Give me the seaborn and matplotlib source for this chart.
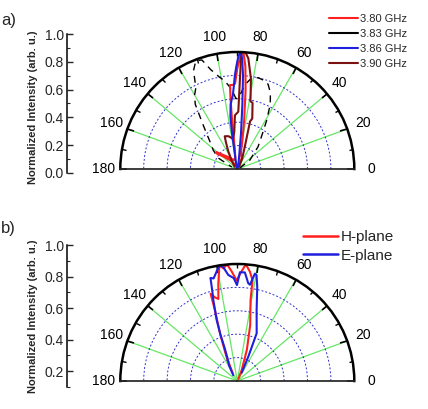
import numpy as np
import pandas as pd
import matplotlib
matplotlib.use("Agg")
import matplotlib.pyplot as plt
import seaborn as sns
from matplotlib.lines import Line2D
from matplotlib.ticker import MultipleLocator

# --- datos (angulo en grados, intensidad normalizada) ---
ANG_380 = [55, 68, 74, 78, 80, 82, 84, 85.5, 87, 88.5, 90, 91.5, 93, 95, 95.5, 96, 96.5, 97,
           100, 110, 125, 135, 141, 143, 138, 125, 110]
INT_380 = [0.02, 0.1, 0.12, 0.15, 0.25, 0.42, 0.68, 0.88, 1.0, 0.96, 0.86, 0.73, 0.72, 0.72, 0.6,
           0.45, 0.3, 0.18, 0.1, 0.08, 0.12, 0.17, 0.23, 0.22, 0.16, 0.08, 0.03]

ANG_383 = [20, 35, 47, 55, 59, 63, 66.5, 70, 73, 77, 81, 85, 88, 91, 94, 98, 101, 105, 108, 111,
           114, 117, 120, 123, 127, 130, 135, 142, 150, 160]
INT_383 = [0.02, 0.13, 0.26, 0.38, 0.49, 0.62, 0.71, 0.77, 0.79, 0.80, 0.79, 0.72, 0.63, 0.60, 0.68,
           0.76, 0.80, 0.88, 0.98, 0.99, 0.92, 0.78, 0.73, 0.66, 0.5, 0.42, 0.33, 0.26, 0.19, 0.05]

ANG_386 = [70, 78, 82, 84, 85.5, 86.5, 87.5, 88.5, 89.5, 90.5, 91.5, 92.5, 93.5, 94.5, 96, 97.5,
           98.5, 99, 102, 115]
INT_386 = [0.01, 0.05, 0.12, 0.3, 0.55, 0.8, 0.95, 1.0, 0.96, 0.88, 0.8, 0.7, 0.63, 0.6, 0.55, 0.45,
           0.3, 0.15, 0.05, 0.01]

ANG_390 = [55, 65, 72, 75, 73.5, 77, 79, 81.4, 84.3, 86, 88, 88.3, 89, 92.5, 94.6, 98, 105, 111,
           113, 117, 125, 140]
INT_390 = [0.03, 0.1, 0.22, 0.42, 0.45, 0.58, 0.59, 0.78, 0.95, 1.0, 1.0, 0.78, 0.49, 0.46, 0.32,
           0.26, 0.29, 0.30, 0.25, 0.17, 0.08, 0.03]

ANG_H = [62, 68, 73, 77, 80.7, 81.4, 83.4, 85.8, 87.7, 90.4, 93, 95, 97, 98.8, 101, 103, 105, 107,
         107.5, 110, 114, 120]
INT_H = [0.02, 0.1, 0.28, 0.49, 0.70, 0.87, 0.94, 1.0, 0.94, 0.86, 0.94, 1.0, 0.97, 1.0, 0.85, 0.72,
         0.74, 0.78, 0.64, 0.43, 0.23, 0.08]

ANG_E = [62, 65.7, 67.9, 74.8, 78, 79.7, 80.7, 82.5, 83.6, 86, 88.6, 90.2, 92, 94.9, 97, 98.5, 100,
         103, 104.6, 105.5, 106.5, 108.7, 110, 111, 113, 118, 125]
INT_E = [0.08, 0.23, 0.44, 0.63, 0.82, 0.92, 0.93, 0.83, 0.84, 0.93, 0.93, 0.82, 0.88, 0.91, 0.98,
         1.0, 0.97, 0.9, 0.91, 0.8, 0.72, 0.55, 0.42, 0.3, 0.22, 0.15, 0.06]

LABELS_A = ['3.80 GHz', '3.83 GHz', '3.86 GHz', '3.90 GHz']
LABELS_B = ['H-plane', 'E-plane']
THETA_TICKS = list(range(0, 181, 20))

C_RED, C_BLK, C_BLUE, C_DRED = '#ff1f1f', '#000000', '#1f1fdd', '#7a1212'
C_GRID_G, C_GRID_B = '#66e666', '#3030d0'

sns.set_theme(style="white")
plt.rcParams['font.family'] = ['Liberation Sans', 'DejaVu Sans']
plt.rcParams['axes.axisbelow'] = True

fig = plt.figure(figsize=(4.28, 4.09), dpi=100)
W, H = 428.0, 409.0


def polar_panel(cx, cy, R):
    # caja cuadrada 2R x 2R: el semicirculo queda centrado verticalmente en ella
    top = cy - 1.5 * R
    ax = fig.add_axes([(cx - R) / W, (H - top - 2 * R) / H, 2 * R / W, 2 * R / H],
                      projection='polar')
    ax.set_thetamin(0)
    ax.set_thetamax(180)
    ax.set_rlim(0, 1)
    ax.set_xticks(np.deg2rad(THETA_TICKS))
    ax.set_xticklabels([str(t) for t in THETA_TICKS], fontsize=10, color='black')
    ax.set_xticks(np.deg2rad(np.arange(10, 180, 20)), minor=True)
    # en polar, tick2 queda sobre el arco exterior
    ax.tick_params(axis='x', which='both', bottom=False, top=True)
    ax.tick_params(axis='x', which='major', direction='in', length=5, width=1.2, pad=5, colors='black')
    ax.tick_params(axis='x', which='minor', direction='in', length=3, width=1.0, colors='black')
    ax.set_yticks([0.2, 0.4, 0.6, 0.8])
    ax.set_yticklabels([])
    ax.xaxis.grid(True, color=C_GRID_G, linewidth=0.9, linestyle='-')
    ax.yaxis.grid(True, color=C_GRID_B, linewidth=0.7, linestyle=(0, (2, 2)))
    ax.spines['polar'].set_linewidth(1.8)
    ax.spines['polar'].set_color('black')
    ax.spines['start'].set_visible(False)
    ax.spines['end'].set_visible(False)
    ax.spines['inner'].set_visible(False)
    return ax


def intensity_axis(top_px, bot_px, ymin, ticks, ylabel_y):
    ax = fig.add_axes([67 / W, (H - bot_px) / H, 0.0005, (bot_px - top_px) / H])
    ax.set_ylim(ymin, 1.0)
    ax.set_xticks([])
    for s in ['top', 'right', 'bottom']:
        ax.spines[s].set_visible(False)
    ax.spines['left'].set_linewidth(1.1)
    ax.spines['left'].set_color('black')
    ax.set_yticks(ticks)
    ax.set_yticklabels([f'{t:.1f}' for t in ticks], fontsize=10)
    ax.yaxis.set_minor_locator(MultipleLocator(0.1))
    ax.tick_params(axis='y', which='major', direction='in', length=4, width=1.0, pad=2, left=True)
    ax.tick_params(axis='y', which='minor', direction='in', length=2, width=0.8, left=True)
    fig.text(33 / W, 1 - ylabel_y / H, 'Normalized Intensity (arb. u.)', rotation=90,
             ha='center', va='center', fontsize=8, fontweight='bold')
    return ax


def trace(ax, ang, val, color, lw=1.5, **kw):
    d = pd.DataFrame({'theta': np.deg2rad(ang), 'r': val})
    sns.lineplot(data=d, x='theta', y='r', sort=False, estimator=None, color=color,
                 linewidth=lw, ax=ax, legend=False, **kw)
    ax.set_xlabel('')
    ax.set_ylabel('')


# ---------------- panel a ----------------
axa = polar_panel(237.3, 169, 117)
trace(axa, ANG_383, INT_383, C_BLK, lw=1.0, linestyle=(0, (5, 4)))
trace(axa, ANG_380, INT_380, C_RED)
trace(axa, ANG_390, INT_390, C_DRED)
trace(axa, ANG_386, INT_386, C_BLUE)
axa.set_rlim(0, 1)
intensity_axis(34, 173, 0.0, [0.0, 0.2, 0.4, 0.6, 0.8, 1.0], 107)

handles_a = [Line2D([], [], color=c, linewidth=1.5) for c in (C_RED, C_BLK, C_BLUE, C_DRED)]
fig.legend(handles_a, LABELS_A, loc='upper left', bbox_to_anchor=(329 / W, 1 - 14 / H),
           frameon=False, fontsize=8, handlelength=2.6, handletextpad=0.2,
           labelspacing=0.45, borderpad=0, borderaxespad=0)

# ---------------- panel b ----------------
axb = polar_panel(237.3, 381, 117)
trace(axb, ANG_H, INT_H, C_RED)
trace(axb, ANG_E, INT_E, C_BLUE)
axb.set_rlim(0, 1)
intensity_axis(245, 387, 0.1, [0.2, 0.4, 0.6, 0.8, 1.0], 316)

handles_b = [Line2D([], [], color=c, linewidth=1.8) for c in (C_RED, C_BLUE)]
fig.legend(handles_b, LABELS_B, loc='upper left', bbox_to_anchor=(303 / W, 1 - 230 / H),
           frameon=False, fontsize=11, handlelength=2.3, handletextpad=0.15,
           labelspacing=0.3, borderpad=0, borderaxespad=0)

fig.text(1 / W, 1 - 20 / H, 'a)', fontsize=12, ha='left', va='center')
fig.text(1 / W, 1 - 229 / H, 'b)', fontsize=12, ha='left', va='center')

fig.savefig('out.png', dpi=100)
